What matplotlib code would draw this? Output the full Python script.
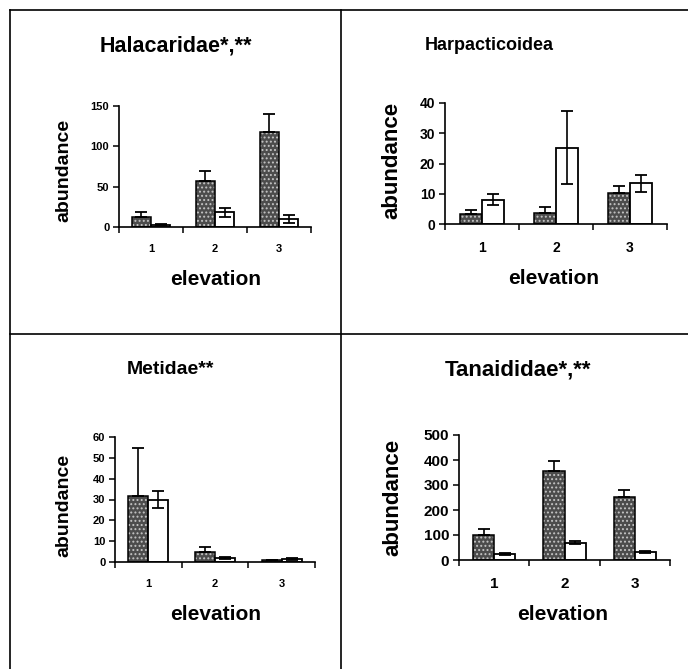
import numpy as np
import matplotlib
matplotlib.use('Agg')
import matplotlib.pyplot as plt
from matplotlib.lines import Line2D

plt.rcParams['font.family'] = ['Liberation Sans', 'DejaVu Sans']
plt.rcParams['hatch.linewidth'] = 0.9

# elevation classes and mean abundance (+ error) per taxon
elevation = ['1', '2', '3']

hal_dark = [12, 57, 118]
hal_dark_err = [6, 13, 22]
hal_open = [3, 18, 9.5]
hal_open_err = [1, 5.5, 5]

harp_dark = [3.3, 3.8, 10.2]
harp_dark_err = [1.4, 1.8, 2.3]
harp_open = [8, 25.2, 13.4]
harp_open_err = [1.8, 12, 2.7]

met_dark = [31.5, 4.8, 0.8]
met_dark_err = [23, 2.4, 0.3]
met_open = [30, 2, 1.5]
met_open_err = [4, 0.5, 0.5]

tan_dark = [100, 356, 253]
tan_dark_err = [23, 41, 27]
tan_open = [24, 69, 32]
tan_open_err = [5, 6, 4]

W, H = 688, 669
fig = plt.figure(figsize=(W / 100, H / 100), dpi=100)


def px_axes(x0, y_top, x1, y_zero):
    return fig.add_axes([x0 / W, 1 - y_zero / H, (x1 - x0) / W, (y_zero - y_top) / H])


def fig_text(x, y, s, **kw):
    fig.text(x / W, 1 - y / H, s, ha='center', va='center', weight='bold', **kw)


def draw_panel(ax, dark, dark_err, light, light_err, ymax, ystep, tick_fs):
    x = np.arange(3) + 0.5
    # stippled fill first, black outline drawn on top
    ax.bar(x - 0.15, dark, 0.3, facecolor='#4c4c4c', edgecolor='#c4c4c4',
           hatch='....', linewidth=0, zorder=2)
    ax.bar(x - 0.15, dark, 0.3, fill=False, edgecolor='black',
           linewidth=1.1, zorder=2)
    ax.bar(x + 0.15, light, 0.3, facecolor='white', edgecolor='black',
           linewidth=1.3, zorder=2)
    ax.errorbar(x - 0.15, dark, yerr=[np.zeros(3), dark_err], fmt='none',
                ecolor='black', elinewidth=1.2, capsize=4.5, capthick=1.3, zorder=3)
    ax.errorbar(x + 0.15, light, yerr=light_err, fmt='none',
                ecolor='black', elinewidth=1.2, capsize=4.5, capthick=1.3, zorder=3)
    ax.set_xlim(0, 3)
    ax.set_ylim(0, ymax)
    ax.set_yticks(np.arange(0, ymax + 1, ystep))
    ax.set_xticks(x)
    ax.set_xticklabels(elevation)
    ax.set_xticks([0, 1, 2, 3], minor=True)
    ax.tick_params(axis='x', which='major', length=0, pad=12, labelsize=tick_fs)
    ax.tick_params(axis='x', which='minor', length=4, width=1.1, direction='out')
    ax.tick_params(axis='y', length=4, width=1.1, pad=3, labelsize=tick_fs)
    for lab in ax.get_xticklabels() + ax.get_yticklabels():
        lab.set_fontweight('bold')
    for side in ('top', 'right'):
        ax.spines[side].set_visible(False)
    for side in ('left', 'bottom'):
        ax.spines[side].set_linewidth(1.2)
    ax.patch.set_alpha(0)


# Halacaridae
ax = px_axes(119, 106, 311, 227)
draw_panel(ax, hal_dark, hal_dark_err, hal_open, hal_open_err, 150, 50, 8)
fig_text(176, 46, 'Halacaridae*,**', fontsize=15.5)
fig_text(64, 170, 'abundance', fontsize=14, rotation=90)
fig_text(216, 280, 'elevation', fontsize=15)

# Harpacticoidea
ax = px_axes(445, 103, 667, 224)
draw_panel(ax, harp_dark, harp_dark_err, harp_open, harp_open_err, 40, 10, 10)
fig_text(489, 46, 'Harpacticoidea', fontsize=13)
fig_text(392, 160, 'abundance', fontsize=16, rotation=90)
fig_text(554, 278, 'elevation', fontsize=15)

# Metidae
ax = px_axes(115, 437, 315, 562)
draw_panel(ax, met_dark, met_dark_err, met_open, met_open_err, 60, 10, 8)
fig_text(170, 370, 'Metidae**', fontsize=14)
fig_text(64, 505, 'abundance', fontsize=14, rotation=90)
fig_text(216, 615, 'elevation', fontsize=15)

# Tanaididae
ax = px_axes(459, 435, 670, 560)
draw_panel(ax, tan_dark, tan_dark_err, tan_open, tan_open_err, 500, 100, 11)
fig_text(518, 370, 'Tanaididae*,**', fontsize=16)
fig_text(393, 497, 'abundance', fontsize=16, rotation=90)
fig_text(563, 615, 'elevation', fontsize=15)

# panel frame
frame = [((10, 688), (10, 10)), ((10, 10), (10, 669)), ((341, 341), (10, 669)),
         ((10, 688), (334, 334))]
for xs, ys in frame:
    fig.add_artist(Line2D([v / W for v in xs], [1 - v / H for v in ys],
                          color='black', linewidth=1.2))

fig.savefig('out.png', dpi=100)
